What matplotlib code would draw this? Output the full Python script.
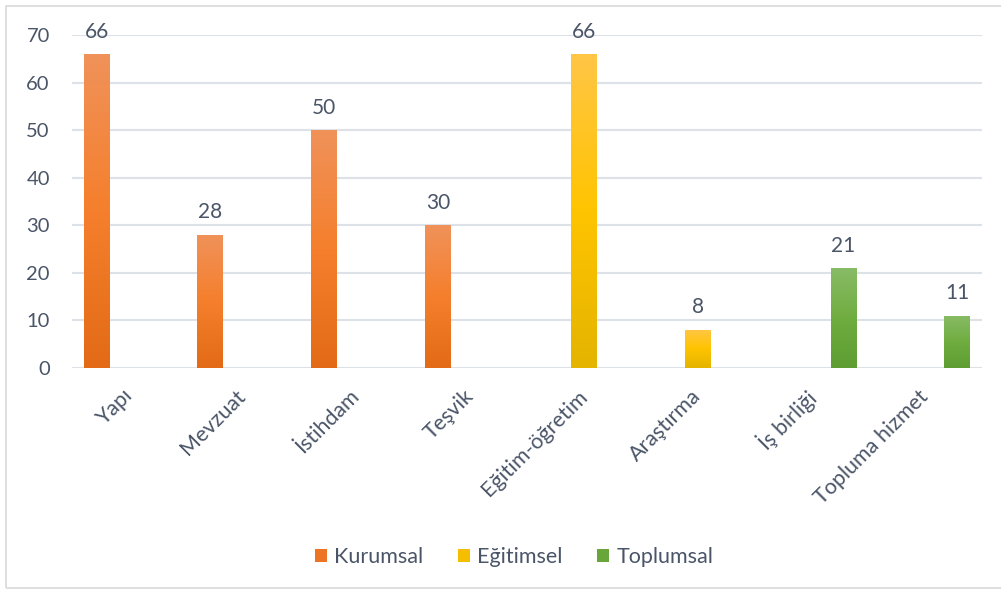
import numpy as np
import matplotlib.pyplot as plt
import matplotlib.transforms as mtransforms
from matplotlib.patches import Patch, Rectangle
from matplotlib.colors import LinearSegmentedColormap

categories = ["Yapı", "Mevzuat", "İstihdam", "Teşvik",
              "Eğitim-öğretim", "Araştırma", "İş birliği", "Topluma hizmet"]
series = ["Kurumsal", "Eğitimsel", "Toplumsal"]
kurumsal = [66, 28, 50, 30, None, None, None, None]
egitimsel = [None, None, None, None, 66, 8, None, None]
toplumsal = [None, None, None, None, None, None, 21, 11]
values = [kurumsal, egitimsel, toplumsal]
yticks = [0, 10, 20, 30, 40, 50, 60, 70]

# top, middle, bottom colours of each gradient
gradients = [
    ["#F0925A", "#F57F2C", "#E36B18"],
    ["#FFC646", "#FFC400", "#E4B400"],
    ["#88BB66", "#70AD40", "#5D9D31"],
]
legend_colors = ["#EC7424", "#F5BE00", "#68A63A"]
text_color = "#4A5568"
grid_color = "#DDE1E8"

plt.rcParams['font.family'] = ['Lato', 'DejaVu Sans']

fig = plt.figure(figsize=(10.01, 5.91), dpi=100)
fig.patches.append(Rectangle((6 / 1001, 3 / 591), 1.2, 582 / 591,
                             transform=fig.transFigure, fill=False,
                             edgecolor="#D9D9D9", linewidth=1.2))
ax = fig.add_axes([72 / 1001, 223 / 591, 910 / 1001, 333 / 591])

x = np.arange(len(categories))
offset = 0.283
width = 0.228

for i, vals in enumerate(values):
    cmap = LinearSegmentedColormap.from_list("g%d" % i, gradients[i][::-1])
    for j, v in enumerate(vals):
        if v is None:
            continue
        xc = x[j] + (i - 1) * offset
        bar = ax.bar(xc, v, width, color="none", edgecolor="none")[0]
        grad = np.linspace(0, 1, 256).reshape(-1, 1)
        img = ax.imshow(grad, cmap=cmap, origin="lower", aspect="auto",
                        extent=[xc - width / 2, xc + width / 2, 0, v],
                        interpolation="bicubic", zorder=2)
        img.set_clip_path(bar)
        ax.annotate(str(v), (xc, v), xytext=(0, 9), textcoords="offset points",
                    ha="center", va="bottom", fontsize=15, color=text_color)

ax.set_xlim(-0.5, len(categories) - 0.5)
ax.set_ylim(0, 70)
ax.set_yticks(yticks)
ax.yaxis.grid(True, color=grid_color, linewidth=1.5)
ax.set_axisbelow(True)
for s in ax.spines.values():
    s.set_visible(False)
ax.tick_params(axis="y", length=0, pad=16, labelsize=14.5, labelcolor=text_color)
ax.tick_params(axis="x", length=0, pad=13, labelsize=15.5, labelcolor=text_color)
ax.set_xticks(x)
ax.set_xticklabels(categories, rotation=45, ha="right", va="top",
                   rotation_mode="anchor")
shift = mtransforms.ScaledTranslation(-7 / 100, 0, fig.dpi_scale_trans)
for lbl in ax.get_xticklabels():
    lbl.set_transform(lbl.get_transform() + shift)

handles = [Patch(facecolor=c, edgecolor="none") for c in legend_colors]
fig.legend(handles, series, loc="center", bbox_to_anchor=(514 / 1001, 1 - 557 / 591),
           ncol=3, frameon=False, fontsize=15.5, handlelength=0.55, handleheight=0.6,
           handletextpad=0.35, columnspacing=1.6, labelcolor=text_color)

fig.savefig("out.png", dpi=100)
